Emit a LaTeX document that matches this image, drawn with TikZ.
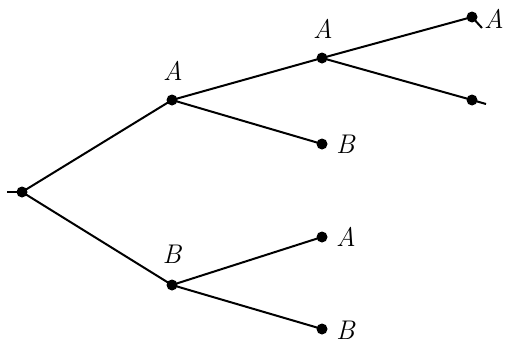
\documentclass[tikz,border=0pt]{standalone}
\usepackage{fix-cm}
\begin{document}
\begin{tikzpicture}[x=1pt,y=-1pt,
  dot/.style={circle,fill=black,inner sep=0pt,minimum size=11pt},
  lab/.style={font=\fontsize{27}{32}\selectfont\itshape,inner sep=0pt},
  edge/.style={line width=2pt}]
\useasboundingbox (0,0) rectangle (506,343);
\node[dot] (r) at (22,192) {};
\node[dot] (a1) at (172,100) {};
\node[dot] (b1) at (172,285) {};
\node[dot] (a2) at (322,58) {};
\node[dot] (lb1) at (322,144) {};
\node[dot] (la3) at (322,237) {};
\node[dot] (lb3) at (322,329) {};
\node[dot] (la4) at (472,17) {};
\node[dot] (lb4) at (472,100) {};
\coordinate (s0) at (7,192);
\coordinate (s1) at (482,28);
\coordinate (s2) at (486,104);
\node[lab] at (173,71) {A};
\node[lab] at (323,29) {A};
\node[lab] at (172,254) {B};
\node[lab,anchor=west] at (336,144) {B};
\node[lab,anchor=west] at (336,237) {A};
\node[lab,anchor=west] at (336,330) {B};
\node[lab] at (494,19) {A};
\draw[edge] (s0) -- (r.center);
\draw[edge] (r.center) -- (a1.center);
\draw[edge] (r.center) -- (b1.center);
\draw[edge] (a1.center) -- (a2.center);
\draw[edge] (a1.center) -- (lb1.center);
\draw[edge] (b1.center) -- (la3.center);
\draw[edge] (b1.center) -- (lb3.center);
\draw[edge] (a2.center) -- (la4.center);
\draw[edge] (a2.center) -- (lb4.center);
\draw[edge] (la4.center) -- (s1);
\draw[edge] (lb4.center) -- (s2);
\end{tikzpicture}
\end{document}
